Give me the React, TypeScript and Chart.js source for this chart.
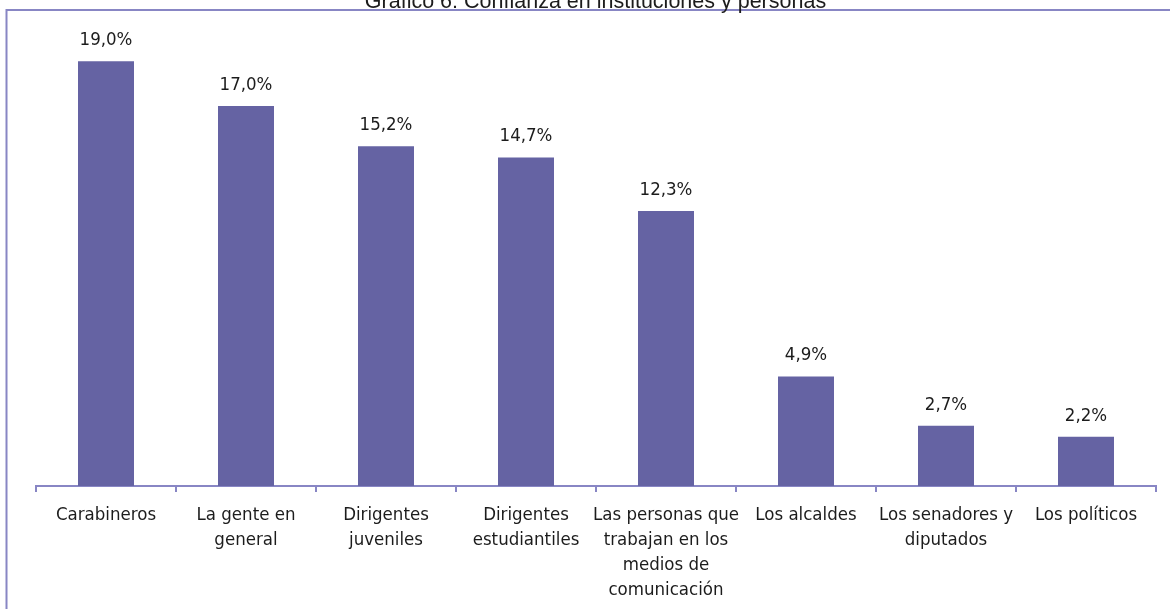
import React, { useEffect, useRef } from "react";
import { Chart, registerables } from "chart.js";

Chart.register(...registerables);

const chartTitle = "Gráfico 6: Confianza en instituciones y personas";
const categories: string[][] = [
  ["Carabineros"],
  ["La gente en", "general"],
  ["Dirigentes", "juveniles"],
  ["Dirigentes", "estudiantiles"],
  ["Las personas que", "trabajan en los", "medios de", "comunicación"],
  ["Los alcaldes"],
  ["Los senadores y", "diputados"],
  ["Los políticos"],
];
const values = [19.0, 17.0, 15.2, 14.7, 12.3, 4.9, 2.7, 2.2];
const valueLabels = ["19,0%", "17,0%", "15,2%", "14,7%", "12,3%", "4,9%", "2,7%", "2,2%"];
const yMin = 0;
const yMax = 20;

const BAR_COLOR = "#6563A3";
const AXIS_COLOR = "#8886C4";
const TEXT_COLOR = "#1c1c1c";
const NARROW = "'DejaVu Sans Condensed', 'Liberation Sans Narrow', sans-serif";
const REGULAR = "'Liberation Sans', Arial, sans-serif";
const LABEL_SIZE = 18.5;

const framePlugin = {
  id: "frameAndTitle",
  beforeDraw(chart: any) {
    const ctx = chart.ctx;
    ctx.save();
    ctx.fillStyle = "#ffffff";
    ctx.fillRect(0, 0, chart.width, chart.height);
    ctx.strokeStyle = AXIS_COLOR;
    ctx.lineWidth = 2;
    ctx.beginPath();
    ctx.moveTo(6.5, chart.height + 5);
    ctx.lineTo(6.5, 10);
    ctx.lineTo(chart.width + 5, 10);
    ctx.stroke();
    ctx.fillStyle = TEXT_COLOR;
    ctx.font = `21.5px ${REGULAR}`;
    ctx.textAlign = "center";
    ctx.textBaseline = "alphabetic";
    ctx.fillText(chartTitle, 595.5, 8);
    ctx.restore();
  },
};

const valueLabelPlugin = {
  id: "valueLabels",
  afterDatasetsDraw(chart: any) {
    const ctx = chart.ctx;
    const meta = chart.getDatasetMeta(0);
    ctx.save();
    ctx.fillStyle = TEXT_COLOR;
    ctx.font = `${LABEL_SIZE}px ${NARROW}`;
    ctx.textAlign = "center";
    ctx.textBaseline = "alphabetic";
    meta.data.forEach((bar: any, i: number) => {
      ctx.fillText(valueLabels[i], bar.x, bar.y - 16);
    });
    ctx.restore();
  },
};

export default function App() {
  const canvasRef = useRef<HTMLCanvasElement | null>(null);

  useEffect(() => {
    document.body.style.margin = "0";
    const canvas = canvasRef.current;
    if (!canvas) return;
    const chart = new Chart(canvas, {
      type: "bar",
      data: {
        labels: categories,
        datasets: [
          {
            data: values,
            backgroundColor: BAR_COLOR,
            borderWidth: 0,
            barPercentage: 0.4,
            categoryPercentage: 1,
          },
        ],
      },
      options: {
        responsive: false,
        animation: false,
        devicePixelRatio: 1,
        layout: { padding: { left: 36, right: 14, top: 39, bottom: 0 } },
        plugins: {
          legend: { display: false },
          title: { display: false },
          tooltip: { enabled: false },
        },
        scales: {
          x: {
            grid: {
              display: true,
              drawOnChartArea: false,
              drawTicks: true,
              tickLength: 6,
              color: AXIS_COLOR,
              lineWidth: 2,
              offset: true,
            },
            border: { display: true, color: AXIS_COLOR, width: 2 },
            ticks: {
              color: TEXT_COLOR,
              font: { family: NARROW, size: LABEL_SIZE, lineHeight: 25 / LABEL_SIZE },
              padding: 11,
              maxRotation: 0,
              minRotation: 0,
              autoSkip: false,
            },
            afterFit: (scale: any) => {
              scale.height = 123;
            },
          },
          y: { display: false, min: yMin, max: yMax },
        },
      },
      plugins: [framePlugin, valueLabelPlugin],
    });
    return () => chart.destroy();
  }, []);

  return (
    <div style={{ width: 1170, height: 609, position: "relative" }}>
      <canvas ref={canvasRef} width={1170} height={609} style={{ display: "block", width: 1170, height: 609 }} />
    </div>
  );
}
